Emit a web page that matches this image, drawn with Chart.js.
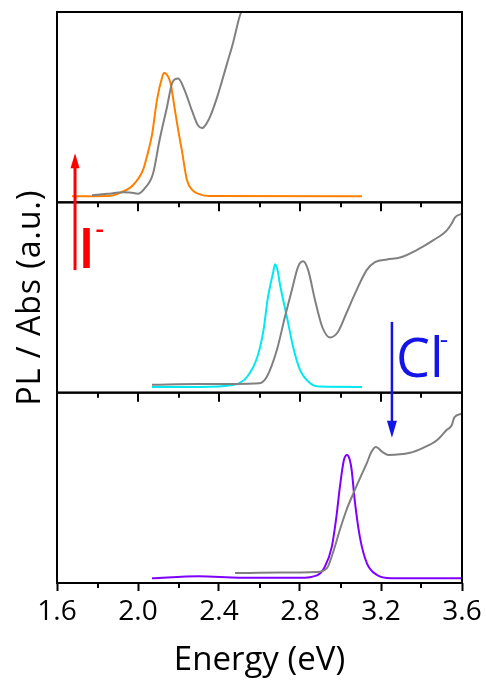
<!DOCTYPE html>
<html>
<head>
<meta charset="utf-8">
<script src="https://cdn.jsdelivr.net/npm/chart.js@4"></script>
<style>
  body { margin: 0; background: #fff; }
  canvas { display: block; }
</style>
</head>
<body>
<canvas id="plChart" width="486" height="681"></canvas>
<script>
// energy (eV), normalised intensity per panel (0 = panel bottom, 1 = panel top)
const plIodide = [[1.674,0.032],[1.85,0.033],[1.911,0.05],[1.975,0.09],[2.025,0.17],[2.044,0.24],[2.07,0.36],[2.094,0.54],[2.12,0.66],[2.128,0.68],[2.14,0.675],[2.16,0.63],[2.183,0.48],[2.2,0.37],[2.217,0.27],[2.242,0.116],[2.27,0.063],[2.306,0.042],[2.35,0.033],[3.106,0.032]];
const absIodide = [[1.773,0.037],[1.85,0.045],[1.926,0.053],[1.96,0.052],[2.0,0.045],[2.03,0.07],[2.074,0.15],[2.107,0.33],[2.143,0.5],[2.17,0.63],[2.198,0.65],[2.23,0.59],[2.267,0.48],[2.296,0.405],[2.316,0.39],[2.336,0.41],[2.356,0.45],[2.39,0.55],[2.44,0.73],[2.47,0.84],[2.5,0.97],[2.52,1.03]];
const plBromide = [[2.069,0.03],[2.3,0.03],[2.47,0.04],[2.54,0.085],[2.59,0.19],[2.62,0.33],[2.64,0.49],[2.667,0.63],[2.677,0.675],[2.69,0.64],[2.7,0.575],[2.735,0.4],[2.766,0.24],[2.8,0.12],[2.85,0.05],[2.9,0.032],[3.106,0.03]];
const absBromide = [[2.069,0.042],[2.3,0.045],[2.6,0.05],[2.637,0.085],[2.686,0.225],[2.726,0.4],[2.76,0.54],[2.79,0.66],[2.815,0.69],[2.84,0.645],[2.874,0.487],[2.91,0.345],[2.948,0.29],[2.988,0.32],[3.03,0.42],[3.08,0.54],[3.13,0.645],[3.17,0.686],[3.23,0.7],[3.294,0.71],[3.378,0.75],[3.457,0.8],[3.525,0.853],[3.55,0.89],[3.565,0.92],[3.6,0.94]];
const plChloride = [[2.069,0.025],[2.3,0.035],[2.5,0.028],[2.8,0.027],[2.884,0.04],[2.92,0.08],[2.957,0.19],[2.98,0.35],[2.997,0.505],[3.017,0.647],[3.032,0.673],[3.045,0.65],[3.055,0.595],[3.07,0.437],[3.096,0.24],[3.13,0.105],[3.18,0.042],[3.25,0.025],[3.6,0.025]];
const absChloride = [[2.479,0.052],[2.7,0.055],[2.884,0.058],[2.933,0.078],[2.963,0.16],[2.997,0.28],[3.03,0.385],[3.063,0.47],[3.096,0.55],[3.13,0.63],[3.153,0.69],[3.175,0.715],[3.205,0.69],[3.235,0.673],[3.343,0.684],[3.408,0.71],[3.476,0.75],[3.525,0.805],[3.55,0.83],[3.562,0.87],[3.6,0.89]];

const majorTicks = [1.6, 2.0, 2.4, 2.8, 3.2, 3.6];
const minorTicks = [1.8, 2.2, 2.6, 3.0, 3.4];

const FONT = '"Open Sans", "Noto Sans", sans-serif';
const toPts = arr => arr.map(p => ({ x: p[0], y: p[1] }));

function line(data, color, yAxisID) {
  return {
    data: toPts(data),
    yAxisID,
    borderColor: color,
    borderWidth: 2,
    pointRadius: 0,
    fill: false,
    cubicInterpolationMode: 'monotone'
  };
}

function panelAxis(weight) {
  return {
    type: 'linear',
    position: 'left',
    stack: 'panels',
    stackWeight: 1,
    weight,
    min: 0,
    max: 1,
    ticks: { display: false },
    grid: { display: false },
    border: { display: false },
    afterFit: s => { s.width = 0; }
  };
}

function drawArrow(ctx, x, yFrom, yTip, color, lw, headW, headH) {
  const dir = yTip < yFrom ? 1 : -1;
  ctx.strokeStyle = color;
  ctx.fillStyle = color;
  ctx.lineWidth = lw;
  ctx.beginPath();
  ctx.moveTo(x, yFrom);
  ctx.lineTo(x, yTip + dir * headH * 0.8);
  ctx.stroke();
  ctx.beginPath();
  ctx.moveTo(x, yTip);
  ctx.lineTo(x - headW / 2, yTip + dir * headH);
  ctx.lineTo(x + headW / 2, yTip + dir * headH);
  ctx.closePath();
  ctx.fill();
}

// frames, small ticks, y title and the halide arrows
const panelDecor = {
  id: 'panelDecor',
  afterDatasetsDraw(chart) {
    const { ctx, chartArea: a, scales } = chart;
    const x = scales.x;
    ctx.save();
    ctx.strokeStyle = '#000';
    ctx.lineWidth = 2;
    ['yTop', 'yMid', 'yBot'].forEach((id, i) => {
      const s = scales[id];
      ctx.strokeRect(a.left, s.top, a.right - a.left, s.bottom - s.top);
      if (i > 0) {
        ctx.beginPath();
        majorTicks.slice(1, -1).forEach(v => {
          const px = Math.round(x.getPixelForValue(v));
          ctx.moveTo(px, s.top); ctx.lineTo(px, s.top + 9);
        });
        minorTicks.forEach(v => {
          const px = Math.round(x.getPixelForValue(v));
          ctx.moveTo(px, s.top); ctx.lineTo(px, s.top + 5);
        });
        ctx.stroke();
      }
    });
    // minor ticks below the bottom axis
    ctx.beginPath();
    minorTicks.forEach(v => {
      const px = Math.round(x.getPixelForValue(v));
      ctx.moveTo(px, a.bottom); ctx.lineTo(px, a.bottom + 5);
    });
    ctx.stroke();

    // y axis title
    ctx.save();
    ctx.translate(31, (a.top + a.bottom) / 2);
    ctx.rotate(-Math.PI / 2);
    ctx.fillStyle = '#000';
    ctx.font = '32px ' + FONT;
    ctx.letterSpacing = '1px';
    ctx.textAlign = 'center';
    ctx.textBaseline = 'middle';
    ctx.fillText('PL / Abs (a.u.)', 0, 0);
    ctx.restore();

    const top = scales.yTop, mid = scales.yMid, bot = scales.yBot;
    // I- arrow (up)
    drawArrow(ctx, x.getPixelForValue(1.689), mid.getPixelForValue(0.644), top.getPixelForValue(0.258), '#ff0000', 3, 9, 15);
    ctx.fillStyle = '#ff0000';
    ctx.textAlign = 'left';
    ctx.textBaseline = 'alphabetic';
    ctx.font = '600 56px ' + FONT;
    ctx.fillText('I', x.getPixelForValue(1.704), mid.getPixelForValue(0.654));
    ctx.font = '600 26px ' + FONT;
    ctx.fillText('-', x.getPixelForValue(1.79), mid.getPixelForValue(0.815));

    // Cl- arrow (down)
    drawArrow(ctx, x.getPixelForValue(3.254), mid.getPixelForValue(0.372), bot.getPixelForValue(0.763), '#1414e6', 2.5, 10, 17);
    ctx.fillStyle = '#1414e6';
    ctx.font = '54px ' + FONT;
    ctx.fillText('Cl', x.getPixelForValue(3.274), mid.getPixelForValue(0.084));
    ctx.font = '26px ' + FONT;
    ctx.fillText('-', x.getPixelForValue(3.49), mid.getPixelForValue(0.236));
    ctx.restore();
  }
};

new Chart(document.getElementById('plChart').getContext('2d'), {
  type: 'line',
  data: {
    datasets: [
      line(absIodide, '#808080', 'yTop'),
      line(plIodide, '#ff8000', 'yTop'),
      line(absBromide, '#808080', 'yMid'),
      line(plBromide, '#00e8f0', 'yMid'),
      line(absChloride, '#808080', 'yBot'),
      line(plChloride, '#8000ff', 'yBot')
    ]
  },
  options: {
    responsive: false,
    animation: false,
    devicePixelRatio: 1,
    layout: { padding: { left: 57, right: 24, top: 12, bottom: 0 } },
    plugins: { legend: { display: false }, tooltip: { enabled: false } },
    scales: {
      x: {
        type: 'linear',
        min: 1.6,
        max: 3.6,
        afterBuildTicks: s => { s.ticks = majorTicks.map(v => ({ value: v })); },
        ticks: {
          color: '#000',
          padding: 4,
          maxRotation: 0,
          font: { family: FONT, size: 28 },
          callback: v => v.toFixed(1)
        },
        grid: { drawOnChartArea: false, tickLength: 8, tickWidth: 2, color: '#000' },
        border: { display: false },
        title: {
          display: true,
          text: 'Energy (eV)',
          color: '#000',
          font: { family: FONT, size: 33 },
          padding: { top: 0, bottom: 1 }
        },
        afterFit: s => { s.height = 98; }
      },
      yTop: panelAxis(3),
      yMid: panelAxis(2),
      yBot: panelAxis(1)
    }
  },
  plugins: [panelDecor]
});
</script>
</body>
</html>
